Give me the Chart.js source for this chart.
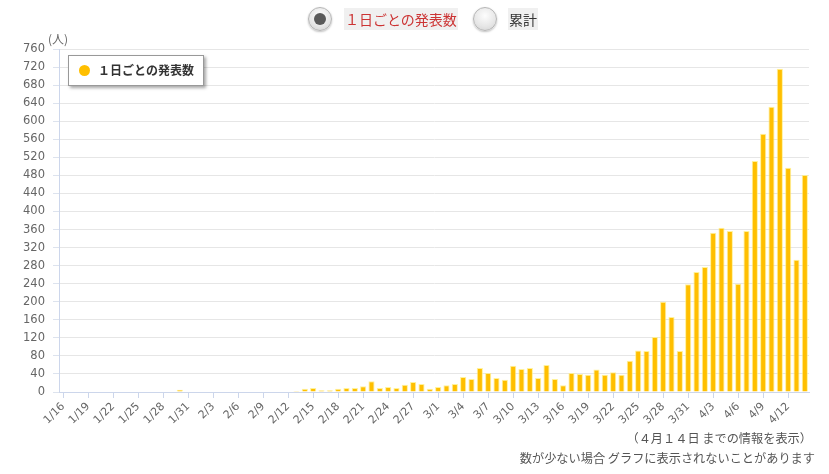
<!DOCTYPE html>
<html>
<head>
<meta charset="utf-8">
<script src="https://cdn.jsdelivr.net/npm/chart.js@4.4.1/dist/chart.umd.min.js"></script>
<style>
  body { margin: 0; background: #fff; font-family: "Noto Sans CJK JP", sans-serif; }
  #wrap { position: relative; width: 829px; height: 474px; overflow: hidden; }
  #chart { position: absolute; left: 0; top: 0; }
  .radio { position: absolute; top: 7px; width: 24px; height: 24px; border-radius: 50%;
    border: 1px solid #b5b5b5; box-sizing: border-box;
    background: radial-gradient(circle at 50% 35%, #fdfdfd 0%, #e6e6e6 60%, #cfcfcf 100%);
    box-shadow: 0 1px 2px rgba(0,0,0,0.25); }
  .radio .dot { position: absolute; left: 5px; top: 5px; width: 12px; height: 12px; border-radius: 50%; background: #5a5a5a; }
  .rlabel { position: absolute; top: 8px; height: 22px; line-height: 22px; font-size: 14px; background: #f0f0f0; padding: 0 1px; }
  #unit { position: absolute; left: 48px; top: 30px; font-size: 12px; color: #666; }
  #legend { position: absolute; left: 68px; top: 55px; width: 136px; height: 31px; background: #fff;
    border: 1px solid #999; box-sizing: border-box; box-shadow: 2px 2px 3px rgba(0,0,0,0.35); }
  #legend .mark { position: absolute; left: 10px; top: 9px; width: 11px; height: 11px; border-radius: 50%; background: #FFBF00; }
  #legend .txt { position: absolute; left: 29px; top: 5px; font-size: 12px; font-weight: bold; color: #333; line-height: 18px; }
  .note { position: absolute; font-size: 12.2px; color: #555; white-space: nowrap; }
</style>
</head>
<body>
<div id="wrap">
  <canvas id="chart" width="829" height="440"></canvas>
  <div class="radio" style="left:308px"><div class="dot"></div></div>
  <div class="rlabel" style="left:344px;color:#cc3333">１日ごとの発表数</div>
  <div class="radio" style="left:473px"></div>
  <div class="rlabel" style="left:508px;color:#333">累計</div>
  <div id="unit">(人)</div>
  <div id="legend"><div class="mark"></div><div class="txt">１日ごとの発表数</div></div>
  <div class="note" style="right:17px;top:429px">（４月１４日 までの情報を表示）</div>
  <div class="note" style="right:14px;top:449px">数が少ない場合 グラフに表示されないことがあります</div>
</div>
<script>
let dates = [
  "1/16","1/17","1/18","1/19","1/20","1/21","1/22","1/23","1/24","1/25","1/26","1/27","1/28","1/29","1/30","1/31",
  "2/1","2/2","2/3","2/4","2/5","2/6","2/7","2/8","2/9","2/10","2/11","2/12","2/13","2/14","2/15","2/16","2/17",
  "2/18","2/19","2/20","2/21","2/22","2/23","2/24","2/25","2/26","2/27","2/28","2/29",
  "3/1","3/2","3/3","3/4","3/5","3/6","3/7","3/8","3/9","3/10","3/11","3/12","3/13","3/14","3/15","3/16",
  "3/17","3/18","3/19","3/20","3/21","3/22","3/23","3/24","3/25","3/26","3/27","3/28","3/29","3/30","3/31",
  "4/1","4/2","4/3","4/4","4/5","4/6","4/7","4/8","4/9","4/10","4/11","4/12","4/13","4/14"
]

// 1/16 - 1/31
let janCounts = [0,0,0,0,0,0,0,0,0,0,0,0,0,0,5,0]
// 2/1 - 2/29
let febCounts = [0,0,0,0,0,0,0,0,0,0,0,0,2,7,9,4,4,7,9,9,13,24,9,11,9,16,22,18,7]
// 3/1 - 3/31
let marCounts = [11,15,18,33,29,53,42,31,27,58,51,53,31,60,29,15,42,40,38,50,38,44,38,69,92,91,122,200,166,91,239]
// 4/1 - 4/14
let aprCounts = [266,277,353,364,357,240,357,512,572,632,716,497,293,481]

let dailyCounts = janCounts.concat(febCounts, marCounts, aprCounts)

let yTicksMax = 760
let yTicksStep = 40

function tickMarkColor(ctx) {
  return ctx.index % 3 === 0 ? "#ccd6eb" : "rgba(0,0,0,0)"
}

new Chart(document.querySelector("#chart"), {
  type: "bar",
  data: {
    labels: dates,
    datasets: [
      {
        label: "１日ごとの発表数",
        data: dailyCounts,
        backgroundColor: "#FFBF00",
        borderColor: "rgba(255,238,120,0.75)",
        borderWidth: 1,
        barPercentage: 0.74,
        categoryPercentage: 1
      }
    ]
  },
  options: {
    responsive: false,
    animation: false,
    events: [],
    layout: { padding: { top: 49, right: 20, left: 0, bottom: 0 } },
    plugins: {
      legend: { display: false },
      tooltip: { enabled: false }
    },
    scales: {
      x: {
        offset: true,
        afterFit: function(scale) { scale.height = 48 },
        border: { color: "#ccd6eb", width: 1 },
        grid: {
          offset: false,
          drawOnChartArea: false,
          drawTicks: true,
          tickLength: 6,
          color: tickMarkColor,
          tickColor: tickMarkColor
        },
        ticks: {
          autoSkip: false,
          maxRotation: 45,
          minRotation: 45,
          padding: 2,
          color: "#666",
          font: { family: "DejaVu Sans", size: 11 },
          callback: function(value, index) {
            return index % 3 === 0 ? this.getLabelForValue(value) : ""
          }
        }
      },
      y: {
        min: 0,
        max: yTicksMax,
        afterFit: function(scale) { scale.width = 59 },
        border: { color: "#ccd6eb", width: 1 },
        grid: {
          color: "#e6e6e6",
          tickColor: "#dde3ee",
          tickLength: 6
        },
        ticks: {
          stepSize: yTicksStep,
          padding: 8,
          color: "#666",
          font: { family: "DejaVu Sans", size: 11.5 }
        }
      }
    }
  }
})
</script>
</body>
</html>
